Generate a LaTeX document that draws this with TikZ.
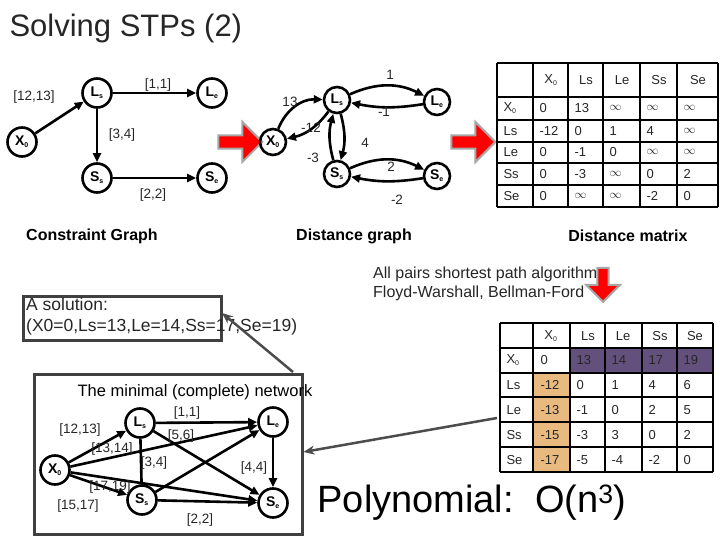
\documentclass[tikz,border=0pt]{standalone}
\usepackage{fontspec}
\setmainfont{Liberation Sans}
\usetikzlibrary{arrows.meta,shapes.arrows,positioning}
\definecolor{purp}{RGB}{100,80,125}
\definecolor{tan}{RGB}{232,186,128}
\tikzset{
  var/.style={circle,draw,line width=2.6pt,minimum size=29pt,inner sep=0pt,font=\bfseries\fontsize{14}{14}\selectfont},
  dvar/.style={var,minimum size=26pt},
  con/.style={-{Triangle[length=9pt,width=8pt]},line width=2.6pt},
  lab/.style={font=\fontsize{13.5}{13.5}\selectfont,inner sep=1pt,text=black!85},
  head/.style={font=\bfseries\fontsize{16}{16}\selectfont},
  redarrow/.style={single arrow,fill=red,draw=gray!70,line width=2pt,minimum height=44pt,minimum width=40pt,single arrow head extend=2pt,inner sep=0pt},
  cell/.style={font=\fontsize{13}{13}\selectfont,text=black!85}
}
\newcommand{\ssub}[2]{#1\textsubscript{\fontsize{7}{7}\selectfont #2}}
\begin{document}
\begin{tikzpicture}[x=1pt,y=-1pt]
\useasboundingbox (0,0) rectangle (720,540);
\node[anchor=west,font=\fontsize{31}{31}\selectfont,text=black!85] (title) at (6,28) {Solving STPs (2)};

% constraint graph
\node[var] (x0) at (22,142) {\ssub{X}{0}};
\node[var] (ls) at (97,93) {\ssub{L}{s}};
\node[var] (le) at (212,93) {\ssub{L}{e}};
\node[var] (ss) at (97,178) {\ssub{S}{s}};
\node[var] (se) at (212,178) {\ssub{S}{e}};
\draw[con] (x0) -- (ls);
\draw[con] (ls) -- (le);
\draw[con] (ls) -- (ss);
\draw[con] (ss) -- (se);
\node[lab] (c1) at (34,97) {[12,13]};
\node[lab] (c2) at (158,85) {[1,1]};
\node[lab] (c3) at (122,135) {[3,4]};
\node[lab] (c4) at (153,195) {[2,2]};
\node[head] (h1) at (92,236) {Constraint Graph};

\node[redarrow] (r1) at (237,142) {};

% distance graph
\node[dvar] (dx0) at (273,142) {\ssub{X}{0}};
\node[dvar] (dls) at (337,100) {\ssub{L}{s}};
\node[dvar] (dle) at (437,102) {\ssub{L}{e}};
\node[dvar] (dss) at (337,174) {\ssub{S}{s}};
\node[dvar] (dse) at (437,176) {\ssub{S}{e}};
\draw[con] (dx0) to[bend left=35] (dls);
\draw[con] (dls) to[bend left=20] (dx0);
\draw[con] (dls) to[bend left=25] (dle);
\draw[con] (dle) to[bend left=10] (dls);
\draw[con] (dls) to[bend left=15] (dss);
\draw[con] (dss) to[bend left=15] (dls);
\draw[con] (dss) to[bend left=25] (dse);
\draw[con] (dse) to[bend left=10] (dss);
\node[lab] (d1) at (290,102) {13};
\node[lab] (d2) at (311,128) {-12};
\node[lab] (d3) at (390,75) {1};
\node[lab] (d4) at (384,112) {-1};
\node[lab] (d5) at (365,143) {4};
\node[lab] (d6) at (313,158) {-3};
\node[lab] (d7) at (391,167) {2};
\node[lab] (d8) at (397,200) {-2};
\node[head] (h2) at (354,236) {Distance graph};

\node[redarrow] (r2) at (470,142) {};

% distance matrix
\fill[white] (497,63) rectangle (718,207);
\foreach \x in {497,533,568,603,640,677,718} \draw[line width=1.4pt] (\x,63) -- (\x,207);
\foreach \y in {63,97,120,142,163,185,207} \draw[line width=1.4pt] (497,\y) -- (718,\y);
\foreach \c/\xc in {\ssub{X}{0}/551,Ls/586,Le/622,Ss/659,Se/698} \node[cell] at (\xc,80) {\c};
\foreach \r/\yc in {\ssub{X}{0}/108,Ls/131,Le/152,Ss/174,Se/196} \node[cell,anchor=west] at (500,\yc) {\r};
\foreach \a/\b/\c/\d/\e [count=\i] in {0/13/$\infty$/$\infty$/$\infty$, -12/0/1/4/$\infty$, 0/-1/0/$\infty$/$\infty$, 0/-3/$\infty$/0/2, 0/$\infty$/$\infty$/-2/0}{
  \pgfmathsetmacro{\yy}{{108,131,152,174,196}[\i-1]}
  \foreach \v/\xv in {\a/536,\b/571,\c/606,\d/643,\e/680} \node[cell,anchor=west] at (\xv,\yy) {\v};
}
\node[head] (h3) at (628,236) {Distance matrix};

\node[lab,align=left,anchor=west,font=\fontsize{16}{19}\selectfont] (apsp) at (372,284) {All pairs shortest path algorithm\\Floyd-Warshall, Bellman-Ford};
\node[redarrow,shape border rotate=270,minimum height=34pt,minimum width=34pt] (r3) at (603,282) {};

% solution
\node[draw=black!75,line width=2.5pt,anchor=north west,minimum width=198pt,minimum height=44pt,inner sep=3pt] (sol) at (22,295) {};
\node[align=left,anchor=north west,font=\fontsize{17.5}{21}\selectfont,inner sep=0pt,text=black!85] (solt) at (26,298) {A solution:\\(X0=0,Ls=13,Le=14,Ss=17,Se=19)};

% minimal network matrix
\fill[purp] (570,348) rectangle (713,373);
\fill[tan] (533,373) rectangle (570,472);
\foreach \x in {500,533,570,605,642,677,713} \draw[line width=1.4pt] (\x,323) -- (\x,472);
\foreach \y in {323,348,373,397,422,447,472} \draw[line width=1.4pt] (500,\y) -- (713,\y);
\foreach \c/\xc in {\ssub{X}{0}/551,Ls/588,Le/623,Ss/660,Se/695} \node[cell] at (\xc,336) {\c};
\foreach \r/\yc in {\ssub{X}{0}/360,Ls/385,Le/410,Ss/435,Se/460} \node[cell,anchor=west] at (503,\yc) {\r};
\foreach \a/\b/\c/\d/\e [count=\i] in {0/13/14/17/19, -12/0/1/4/6, -13/-1/0/2/5, -15/-3/3/0/2, -17/-5/-4/-2/0}{
  \pgfmathsetmacro{\yy}{{360,385,410,435,460}[\i-1]}
  \foreach \v/\xv in {\a/537,\b/573,\c/608,\d/645,\e/680} \node[cell,anchor=west] at (\xv,\yy) {\v};
}

% minimal network
\node[draw=black!75,line width=2.5pt,anchor=north west,minimum width=268pt,minimum height=160pt,inner sep=0pt] (net) at (33,373) {};
\node[font=\fontsize{16.5}{16.5}\selectfont,inner sep=1pt] (nett) at (195,392) {The minimal (complete) network};
\node[var] (nx0) at (55,470) {\ssub{X}{0}};
\node[var] (nls) at (140,423) {\ssub{L}{s}};
\node[var] (nle) at (273,422) {\ssub{L}{e}};
\node[var] (nss) at (142,500) {\ssub{S}{s}};
\node[var] (nse) at (273,503) {\ssub{S}{e}};
\draw[con] (nx0) -- (nls);
\draw[con] (nx0) -- (nle);
\draw[con] (nx0) -- (nse);
\draw[con] (nx0) -- (nss);
\draw[con] (nls) -- (nle);
\draw[con] (nls) -- (nse);
\draw[con,-] (nls) -- (nss);
\draw[con] (nss) -- (nle);
\draw[con] (nss) -- (nse);
\draw[con] (nle) -- (nse);
\node[lab] (n1) at (80,430) {[12,13]};
\node[lab] (n2) at (187,413) {[1,1]};
\node[lab] (n3) at (181,436) {[5,6]};
\node[lab] (n4) at (112,449) {[13,14]};
\node[lab] (n5) at (154,463) {[3,4]};
\node[lab] (n6) at (254,468) {[4,4]};
\node[lab] (n7) at (110,487) {[17,19]};
\node[lab] (n8) at (78,506) {[15,17]};
\node[lab] (n9) at (200,520) {[2,2]};

\node[font=\fontsize{38}{38}\selectfont,anchor=west] (poly) at (314,503) {Polynomial:\ \ O(n\textsuperscript{3})};

% pointers
\coordinate (pa) at (497,418);
\coordinate (pb) at (293,372);
\draw[-{Stealth[length=11pt,width=9pt]},line width=2.5pt,draw=black!70] (pa) -- (net.east |- 0,452);
\draw[-{Stealth[length=11pt,width=9pt]},line width=2.5pt,draw=black!70] (pb) -- (222,313);
\end{tikzpicture}
\end{document}
